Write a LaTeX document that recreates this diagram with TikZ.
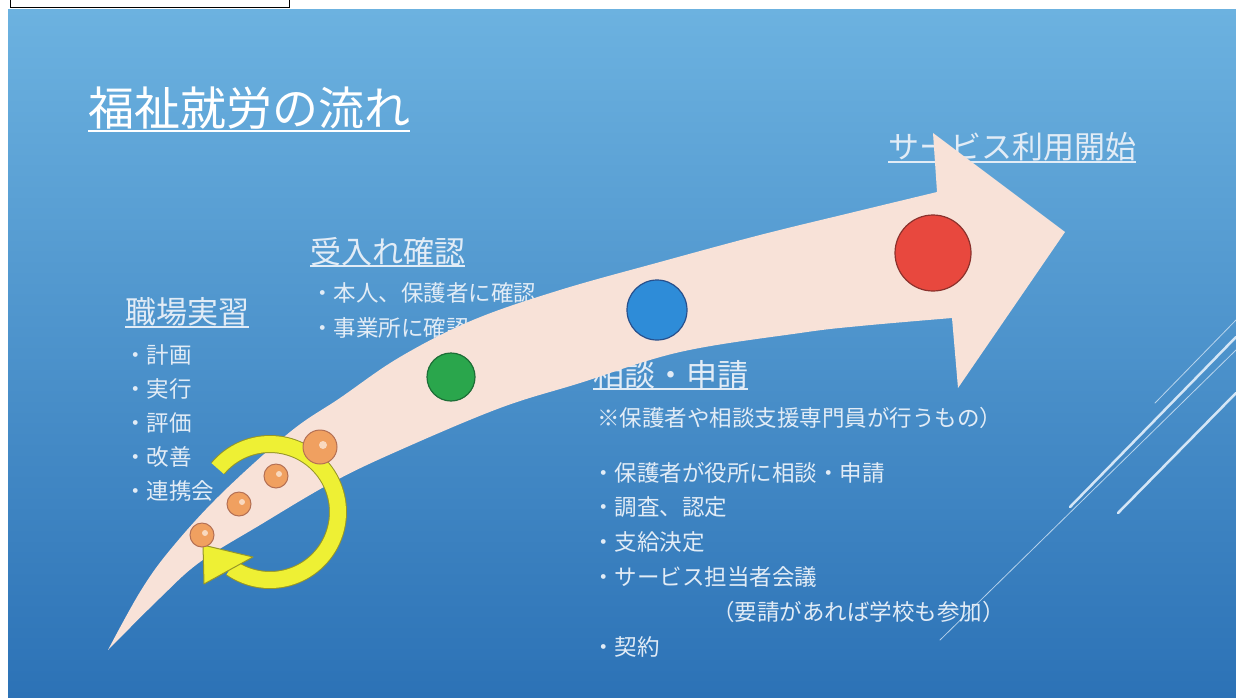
\documentclass[tikz,border=0pt]{standalone}
\usepackage{fontspec}
\newfontfamily\jp{Noto Sans CJK JP}
\definecolor{bgtop}{RGB}{108,178,224}
\definecolor{bgmid}{RGB}{52,132,202}
\definecolor{bgbot}{RGB}{44,114,182}
\definecolor{textc}{RGB}{226,236,246}
\definecolor{arrowc}{RGB}{248,226,216}
\definecolor{ringc}{RGB}{238,240,52}
\definecolor{ringe}{RGB}{150,150,40}
\definecolor{redf}{RGB}{232,72,62}
\definecolor{rede}{RGB}{140,50,45}
\definecolor{bluef}{RGB}{46,140,216}
\definecolor{bluee}{RGB}{40,80,140}
\definecolor{greenf}{RGB}{42,166,76}
\definecolor{greene}{RGB}{30,110,55}
\definecolor{orangef}{RGB}{240,160,96}
\definecolor{orangee}{RGB}{180,112,84}
\definecolor{decoc}{RGB}{212,230,246}
\begin{document}
\begin{tikzpicture}[x=1pt,y=-1pt,
  txt/.style={text=textc, inner sep=0pt, anchor=west, font=\jp\fontsize{22.5}{27}\selectfont},
  head/.style={text=textc, inner sep=0pt, anchor=west, font=\jp\fontsize{31}{36}\selectfont},
  uline/.style={draw=textc, line width=1.5pt},
  ball/.style={circle, inner sep=0pt, line width=1.2pt},
  oball/.style={ball, fill=orangef, draw=orangee, line width=1pt},
  deco/.style={draw=decoc, line cap=round}
]
\useasboundingbox (0,0) rectangle (1236,697);
\fill[white] (0,0) rectangle (1236,697);
\draw[black, line width=1pt] (10,-5) rectangle (289,7);
\shade[top color=bgtop, middle color=bgmid, bottom color=bgbot] (8,9) rectangle (1236,697);

% decorative lines
\draw[deco, line width=2.5pt] (1070,507) -- (1236,337);
\draw[deco, line width=0.8pt, opacity=0.8] (1155,403) -- (1236,320);
\draw[deco, line width=0.8pt, opacity=0.8] (940,640) -- (1236,350);
\draw[deco, line width=2.5pt] (1118,513) -- (1236,393);

% title
\node[text=white, inner sep=0pt, anchor=west, font=\jp\fontsize{46}{50}\selectfont] (title) at (88,108) {福祉就労の流れ};
\draw[uline, draw=white] (title.west |- 0,131) -- (title.east |- 0,131);

% headings
\node[head] (uke) at (310,252) {受入れ確認};
\draw[uline] (uke.west |- 0,266) -- (uke.east |- 0,266);
\node[head] (shoku) at (125,312) {職場実習};
\draw[uline] (shoku.west |- 0,327) -- (shoku.east |- 0,327);
\node[head] (sodan) at (593,375) {相談・申請};
\draw[uline] (sodan.west |- 0,389) -- (sodan.east |- 0,389);
\node[head] (kaishi) at (888,147) {サービス利用開始};
\draw[uline] (kaishi.west |- 0,162) -- (kaishi.east |- 0,162);

% body texts
\node[txt] (u1) at (311,293) {・本人、保護者に確認};
\node[txt] (u2) at (311,328) {・事業所に確認};

\node[txt] (s1) at (124,355) {・計画};
\node[txt] (s2) at (124,389) {・実行};
\node[txt] (s3) at (124,423) {・評価};
\node[txt] (s4) at (124,457) {・改善};
\node[txt] (s5) at (124,491) {・連携会};

\node[txt] (n0) at (597,418) {※保護者や相談支援専門員が行うもの）};
\node[txt] (n1) at (592,473) {・保護者が役所に相談・申請};
\node[txt] (n2) at (592,507) {・調査、認定};
\node[txt] (n3) at (592,542) {・支給決定};
\node[txt] (n4) at (592,577) {・サービス担当者会議};
\node[txt] (n5) at (712,612) {（要請があれば学校も参加）};
\node[txt] (n6) at (592,647) {・契約};

% big curved arrow
\fill[arrowc] plot[smooth, tension=0.6] coordinates {(108,650) (140,592) (170,550) (220,495) (290,432) (340,398) (400,357) (473,320) (560,290) (660,262) (760,235) (850,213) (937,192)}
  -- (933,133) -- (1065,232) -- (958,388) -- (952,318)
  -- plot[smooth, tension=0.6] coordinates {(952,318) (860,326) (800,333) (680,352) (580,383) (500,408) (400,450) (333,482) (260,525) (200,562) (160,598) (108,650)} -- cycle;

% milestone circles
\node[ball, fill=redf, draw=rede, minimum size=76pt] (red) at (933,253) {};
\node[ball, fill=bluef, draw=bluee, minimum size=60pt] (blue) at (657,310) {};
\node[ball, fill=greenf, draw=greene, minimum size=48pt] (green) at (451,377) {};

% yellow cycle arrow
\draw[ringe, line width=18pt] plot[domain=140:-125, samples=80] ({270+68*cos(\x)},{512-68*sin(\x)});
\draw[ringc, line width=16pt] plot[domain=140.3:-125, samples=80] ({270+68*cos(\x)},{512-68*sin(\x)});
\filldraw[fill=ringc, draw=ringe, line width=1pt, line join=round] (203,545) -- (253,557) -- (204,584) -- cycle;

% orange circles
\node[oball, minimum size=24pt] (o1) at (202,535) {};
\node[oball, minimum size=24pt] (o2) at (239,504) {};
\node[oball, minimum size=24pt] (o3) at (276,476) {};
\node[oball, minimum size=34pt] (o4) at (320,447) {};
\foreach \c/\r in {o1/3, o2/3, o3/3, o4/4}{
  \fill[white, opacity=0.6] ([xshift=3pt, yshift=2pt]\c.center) circle[radius=\r pt];
}
\end{tikzpicture}
\end{document}
